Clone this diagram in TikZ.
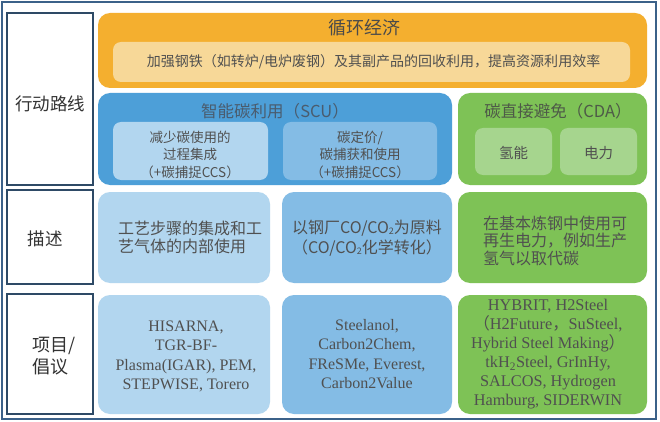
\documentclass[tikz,border=0pt]{standalone}
\usepackage{fontspec}
\setmainfont{Noto Sans CJK SC}
\newfontfamily\tms{Liberation Serif}
\definecolor{frameblue}{HTML}{3B6189}
\definecolor{labborder}{HTML}{2E4A66}
\definecolor{orangebg}{HTML}{F4AF2F}
\definecolor{orangepale}{HTML}{F7D898}
\definecolor{scublue}{HTML}{4D9FD8}
\definecolor{bluelight}{HTML}{B2D6EF}
\definecolor{bluemid}{HTML}{84BCE5}
\definecolor{cdagreen}{HTML}{7EC256}
\definecolor{greenlight}{HTML}{A6D58E}
\definecolor{txt}{HTML}{505050}
\definecolor{labtxt}{HTML}{333333}
\definecolor{titletxt}{HTML}{4A4A4A}
\definecolor{scutitle}{HTML}{4A5C6E}
\definecolor{cdatitle}{HTML}{4E5A48}
\newcommand{\sub}[1]{\raisebox{-1.5pt}{\fontsize{9}{9}\selectfont #1}}
\begin{document}
\begin{tikzpicture}[x=1pt,y=-1pt,
  bigbox/.style={rounded corners=12pt, inner sep=0pt, draw=none},
  smallbox/.style={rounded corners=8pt, inner sep=0pt, draw=none},
  labbox/.style={draw=labborder, line width=2pt, fill=white, inner sep=0pt},
  labtext/.style={text=labtxt, font=\fontsize{17.5}{22}\selectfont, align=left, inner sep=0pt},
  cjktext/.style={text=txt, inner sep=0pt},
  sertext/.style={text=txt, inner sep=0pt, align=center, font=\tms\fontsize{16}{19.3}\selectfont}
]
\useasboundingbox[fill=white] (0,0) rectangle (660,422);
\draw[frameblue, line width=1.8pt] (2,2) rectangle (656,419);

% left labels
\node[labbox, minimum width=86pt, minimum height=172pt] (lab1) at (50,99) {};
\node[labbox, minimum width=86pt, minimum height=94pt] (lab2) at (50,237) {};
\node[labbox, minimum width=86pt, minimum height=120pt] (lab3) at (50,354) {};
\node[labtext] (lab1t) at (50,104) {行动路线};
\node[labtext] (lab2t) at (45,239) {描述};
\node[labtext, font=\fontsize{18}{22}\selectfont] (lab3t) at (54,356) {项目/\\倡议};

% circular economy
\node[bigbox, fill=orangebg, minimum width=549pt, minimum height=75pt] (ce) at (372.5,50.5) {};
\node[smallbox, fill=orangepale, minimum width=517pt, minimum height=40pt] (cein) at (371.5,62) {};
\node[cjktext, text=titletxt, font=\fontsize{18}{20}\selectfont] (cet) at (364,28) {循环经济};
\node[cjktext, font=\fontsize{14}{16}\selectfont] (ceint) at (373.5,62) {加强钢铁（如转炉/电炉废钢）及其副产品的回收利用，提高资源利用效率};

% SCU
\node[bigbox, fill=scublue, minimum width=354pt, minimum height=92pt] (scu) at (275,139) {};
\node[cjktext, text=scutitle, font=\fontsize{16.5}{18}\selectfont] (scut) at (275,111) {智能碳利用（SCU）};
\node[smallbox, fill=bluelight, minimum width=155pt, minimum height=58pt] (scu1) at (190.5,151) {};
\node[smallbox, fill=bluemid, minimum width=154pt, minimum height=58pt] (scu2) at (360,151) {};
\node[cjktext, align=center, font=\fontsize{13.5}{17.5}\selectfont] (scu1t) at (190,154.5) {减少碳使用的\\过程集成\\（+碳捕捉CCS）};
\node[cjktext, align=center, font=\fontsize{13.5}{17.5}\selectfont] (scu2t) at (360,154.5) {碳定价/\\碳捕获和使用\\（+碳捕捉CCS）};

% CDA
\node[bigbox, fill=cdagreen, minimum width=189pt, minimum height=92pt] (cda) at (552.5,139) {};
\node[cjktext, text=cdatitle, font=\fontsize{16.5}{18}\selectfont] (cdat) at (558,111) {碳直接避免（CDA）};
\node[smallbox, fill=greenlight, minimum width=77pt, minimum height=47pt] (h2) at (513.5,151.5) {};
\node[smallbox, fill=greenlight, minimum width=77pt, minimum height=47pt] (elec) at (598.5,151.5) {};
\node[cjktext, font=\fontsize{14.5}{16}\selectfont] (h2t) at (513.5,153) {氢能};
\node[cjktext, font=\fontsize{14.5}{16}\selectfont] (elect) at (598.5,153) {电力};

% row 2
\node[bigbox, fill=bluelight, minimum width=172pt, minimum height=91pt] (r2a) at (184,237.5) {};
\node[bigbox, fill=bluemid, minimum width=170pt, minimum height=91pt] (r2b) at (367,237.5) {};
\node[bigbox, fill=cdagreen, minimum width=189pt, minimum height=91pt] (r2c) at (552.5,237.5) {};
\node[cjktext, align=left, anchor=west, font=\fontsize{16}{18.5}\selectfont] (r2at) at (118,237.5) {工艺步骤的集成和工\\艺气体的内部使用};
\node[cjktext, align=center, font=\fontsize{16}{20}\selectfont] (r2bt) at (367,238) {以钢厂CO/CO\sub{2}为原料\\（CO/CO\sub{2}化学转化）};
\node[cjktext, align=left, anchor=west, font=\fontsize{16}{17.5}\selectfont] (r2ct) at (483,240.5) {在基本炼钢中使用可\\再生电力，例如生产\\氢气以取代碳};

% row 3
\node[bigbox, fill=bluelight, minimum width=172pt, minimum height=119pt] (r3a) at (184,354.5) {};
\node[bigbox, fill=bluemid, minimum width=170pt, minimum height=119pt] (r3b) at (367,354.5) {};
\node[bigbox, fill=cdagreen, minimum width=189pt, minimum height=119pt] (r3c) at (552.5,354.5) {};
\node[sertext] (r3at) at (186,356.5) {HISARNA,\\TGR-BF-\\Plasma(IGAR), PEM,\\STEPWISE, Torero};
\node[sertext] (r3bt) at (367,354) {Steelanol,\\Carbon2Chem,\\FReSMe, Everest,\\Carbon2Value};
\node[sertext, font=\tms\fontsize{16.3}{19}\selectfont] (r3ct) at (548,354.5) {HYBRIT, H2Steel\\{\fontspec{Noto Sans CJK SC}（}H2Future{\fontspec{Noto Sans CJK SC}，}SuSteel,\\Hybrid Steel Making{\fontspec{Noto Sans CJK SC}）}\\tkH\textsubscript{2}Steel, GrInHy,\\SALCOS, Hydrogen\\Hamburg, SIDERWIN};
\end{tikzpicture}
\end{document}
